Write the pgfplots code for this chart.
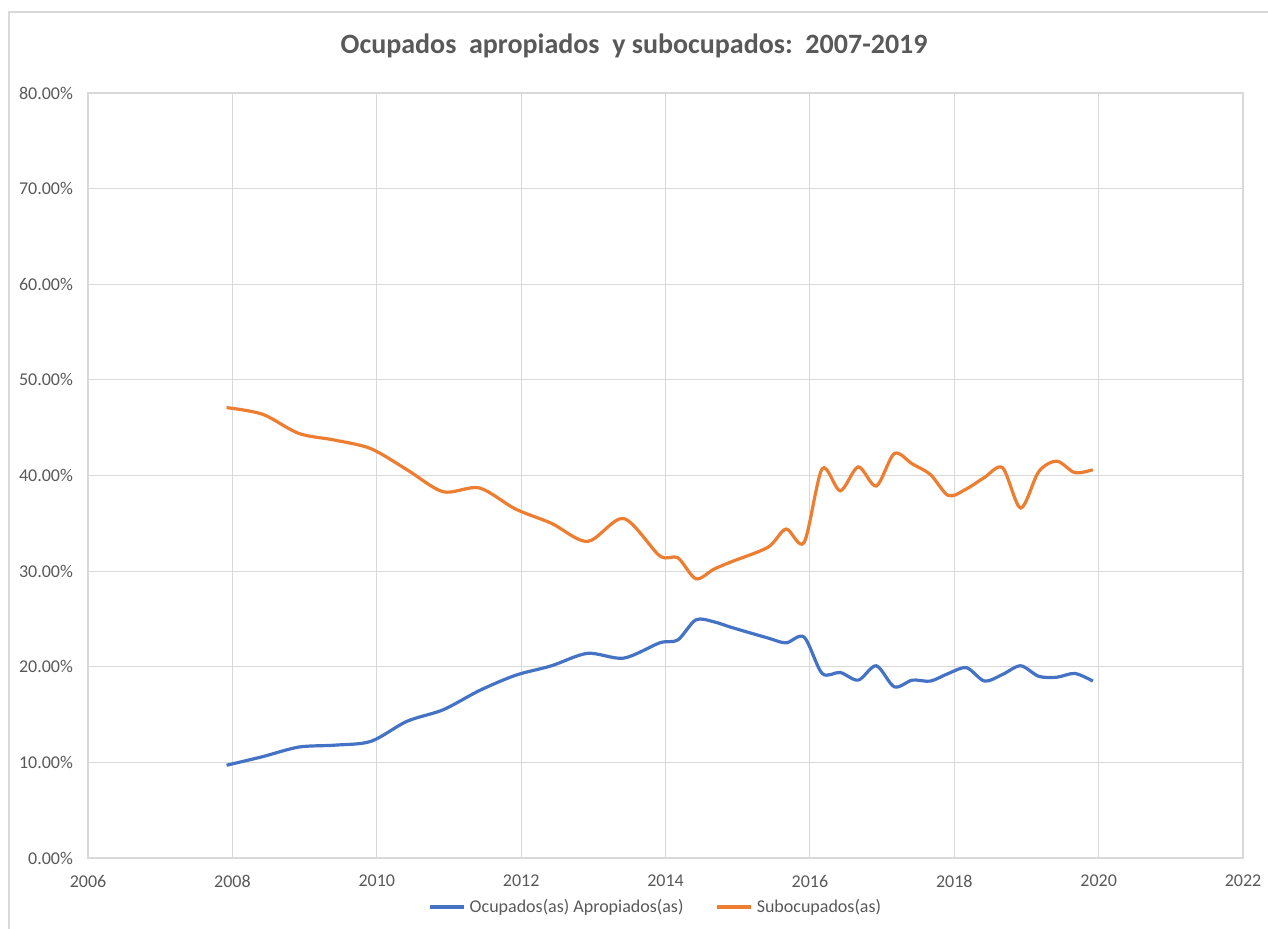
\documentclass[border=0pt]{standalone}
\usepackage{pgfplots}
\pgfplotsset{compat=1.18}
\usepackage{fontspec}
\setmainfont{Carlito}
\definecolor{cblue}{HTML}{4472C4}
\definecolor{corange}{HTML}{ED7D31}
\definecolor{cgrid}{HTML}{D9D9D9}
\definecolor{ctext}{HTML}{595959}
\begin{document}
\begin{tikzpicture}
\useasboundingbox (-44pt,-35.5pt) rectangle (590pt,429pt);
\draw[cgrid,line width=0.6pt] (-39.5pt,-60pt) -- (-39.5pt,423pt) -- (620pt,423pt);
\node[text=ctext,font=\fontsize{14}{16}\selectfont\bfseries] at (273pt,406pt) {Ocupados\ \ apropiados\ \ y subocupados:\ \ 2007-2019};
\begin{axis}[
  scale only axis,
  width=577.5pt, height=382.5pt,
  xmin=2006, xmax=2022, ymin=0, ymax=80,
  xtick={2006,2008,...,2022},
  xticklabels={2006,2008,2010,2012,2014,2016,2018,2020,2022},
  ytick={0,10,...,80},
  yticklabels={0.00\%,10.00\%,20.00\%,30.00\%,40.00\%,50.00\%,60.00\%,70.00\%,80.00\%},
  grid=major,
  major grid style={cgrid,line width=0.6pt},
  axis line style={cgrid,line width=0.6pt},
  major tick length=0pt,
  tick label style={text=ctext,font=\fontsize{9}{10}\selectfont},
  yticklabel style={xshift=-4pt},
  xticklabel style={yshift=-5pt},
  legend columns=2,
  legend style={at={(axis description cs:0.4925,-0.064)},anchor=center,draw=none,fill=none,
    font=\fontsize{9}{10}\selectfont,text=ctext,
    /tikz/every even column/.append style={column sep=14pt}},
  legend image code/.code={\draw[#1] (0pt,0pt) -- (17pt,0pt);},
]
\addplot[cblue,line width=1.6pt,smooth,tension=0.5] coordinates {
(2007.92,9.7) (2008.42,10.6) (2008.92,11.6) (2009.42,11.8) (2009.92,12.2)
(2010.42,14.3) (2010.92,15.5) (2011.42,17.5) (2011.92,19.1) (2012.42,20.1)
(2012.92,21.4) (2013.42,20.9) (2013.92,22.5) (2014.17,22.8) (2014.42,24.9)
(2014.67,24.7) (2014.92,24.1) (2015.42,23.0) (2015.67,22.5) (2015.92,23.1)
(2016.17,19.3) (2016.42,19.4) (2016.67,18.6) (2016.92,20.1) (2017.17,17.9)
(2017.42,18.6) (2017.67,18.5) (2017.92,19.3) (2018.17,19.9) (2018.42,18.5)
(2018.67,19.2) (2018.92,20.1) (2019.17,19.0) (2019.42,18.9) (2019.67,19.3)
(2019.92,18.5)};
\addlegendentry{Ocupados(as) Apropiados(as)}
\addplot[corange,line width=1.6pt,smooth,tension=0.5] coordinates {
(2007.92,47.1) (2008.42,46.4) (2008.92,44.4) (2009.42,43.7) (2009.92,42.8)
(2010.42,40.6) (2010.92,38.3) (2011.42,38.7) (2011.92,36.5) (2012.42,35.0)
(2012.92,33.1) (2013.42,35.5) (2013.92,31.6) (2014.17,31.4) (2014.42,29.2)
(2014.67,30.2) (2014.92,31.0) (2015.42,32.5) (2015.67,34.4) (2015.92,33.0)
(2016.17,40.7) (2016.42,38.4) (2016.67,40.9) (2016.92,38.9) (2017.17,42.3)
(2017.42,41.2) (2017.67,40.1) (2017.92,37.9) (2018.17,38.6) (2018.42,39.8)
(2018.67,40.8) (2018.92,36.6) (2019.17,40.4) (2019.42,41.5) (2019.67,40.3)
(2019.92,40.6)};
\addlegendentry{Subocupados(as)}
\end{axis}
\end{tikzpicture}
\end{document}
